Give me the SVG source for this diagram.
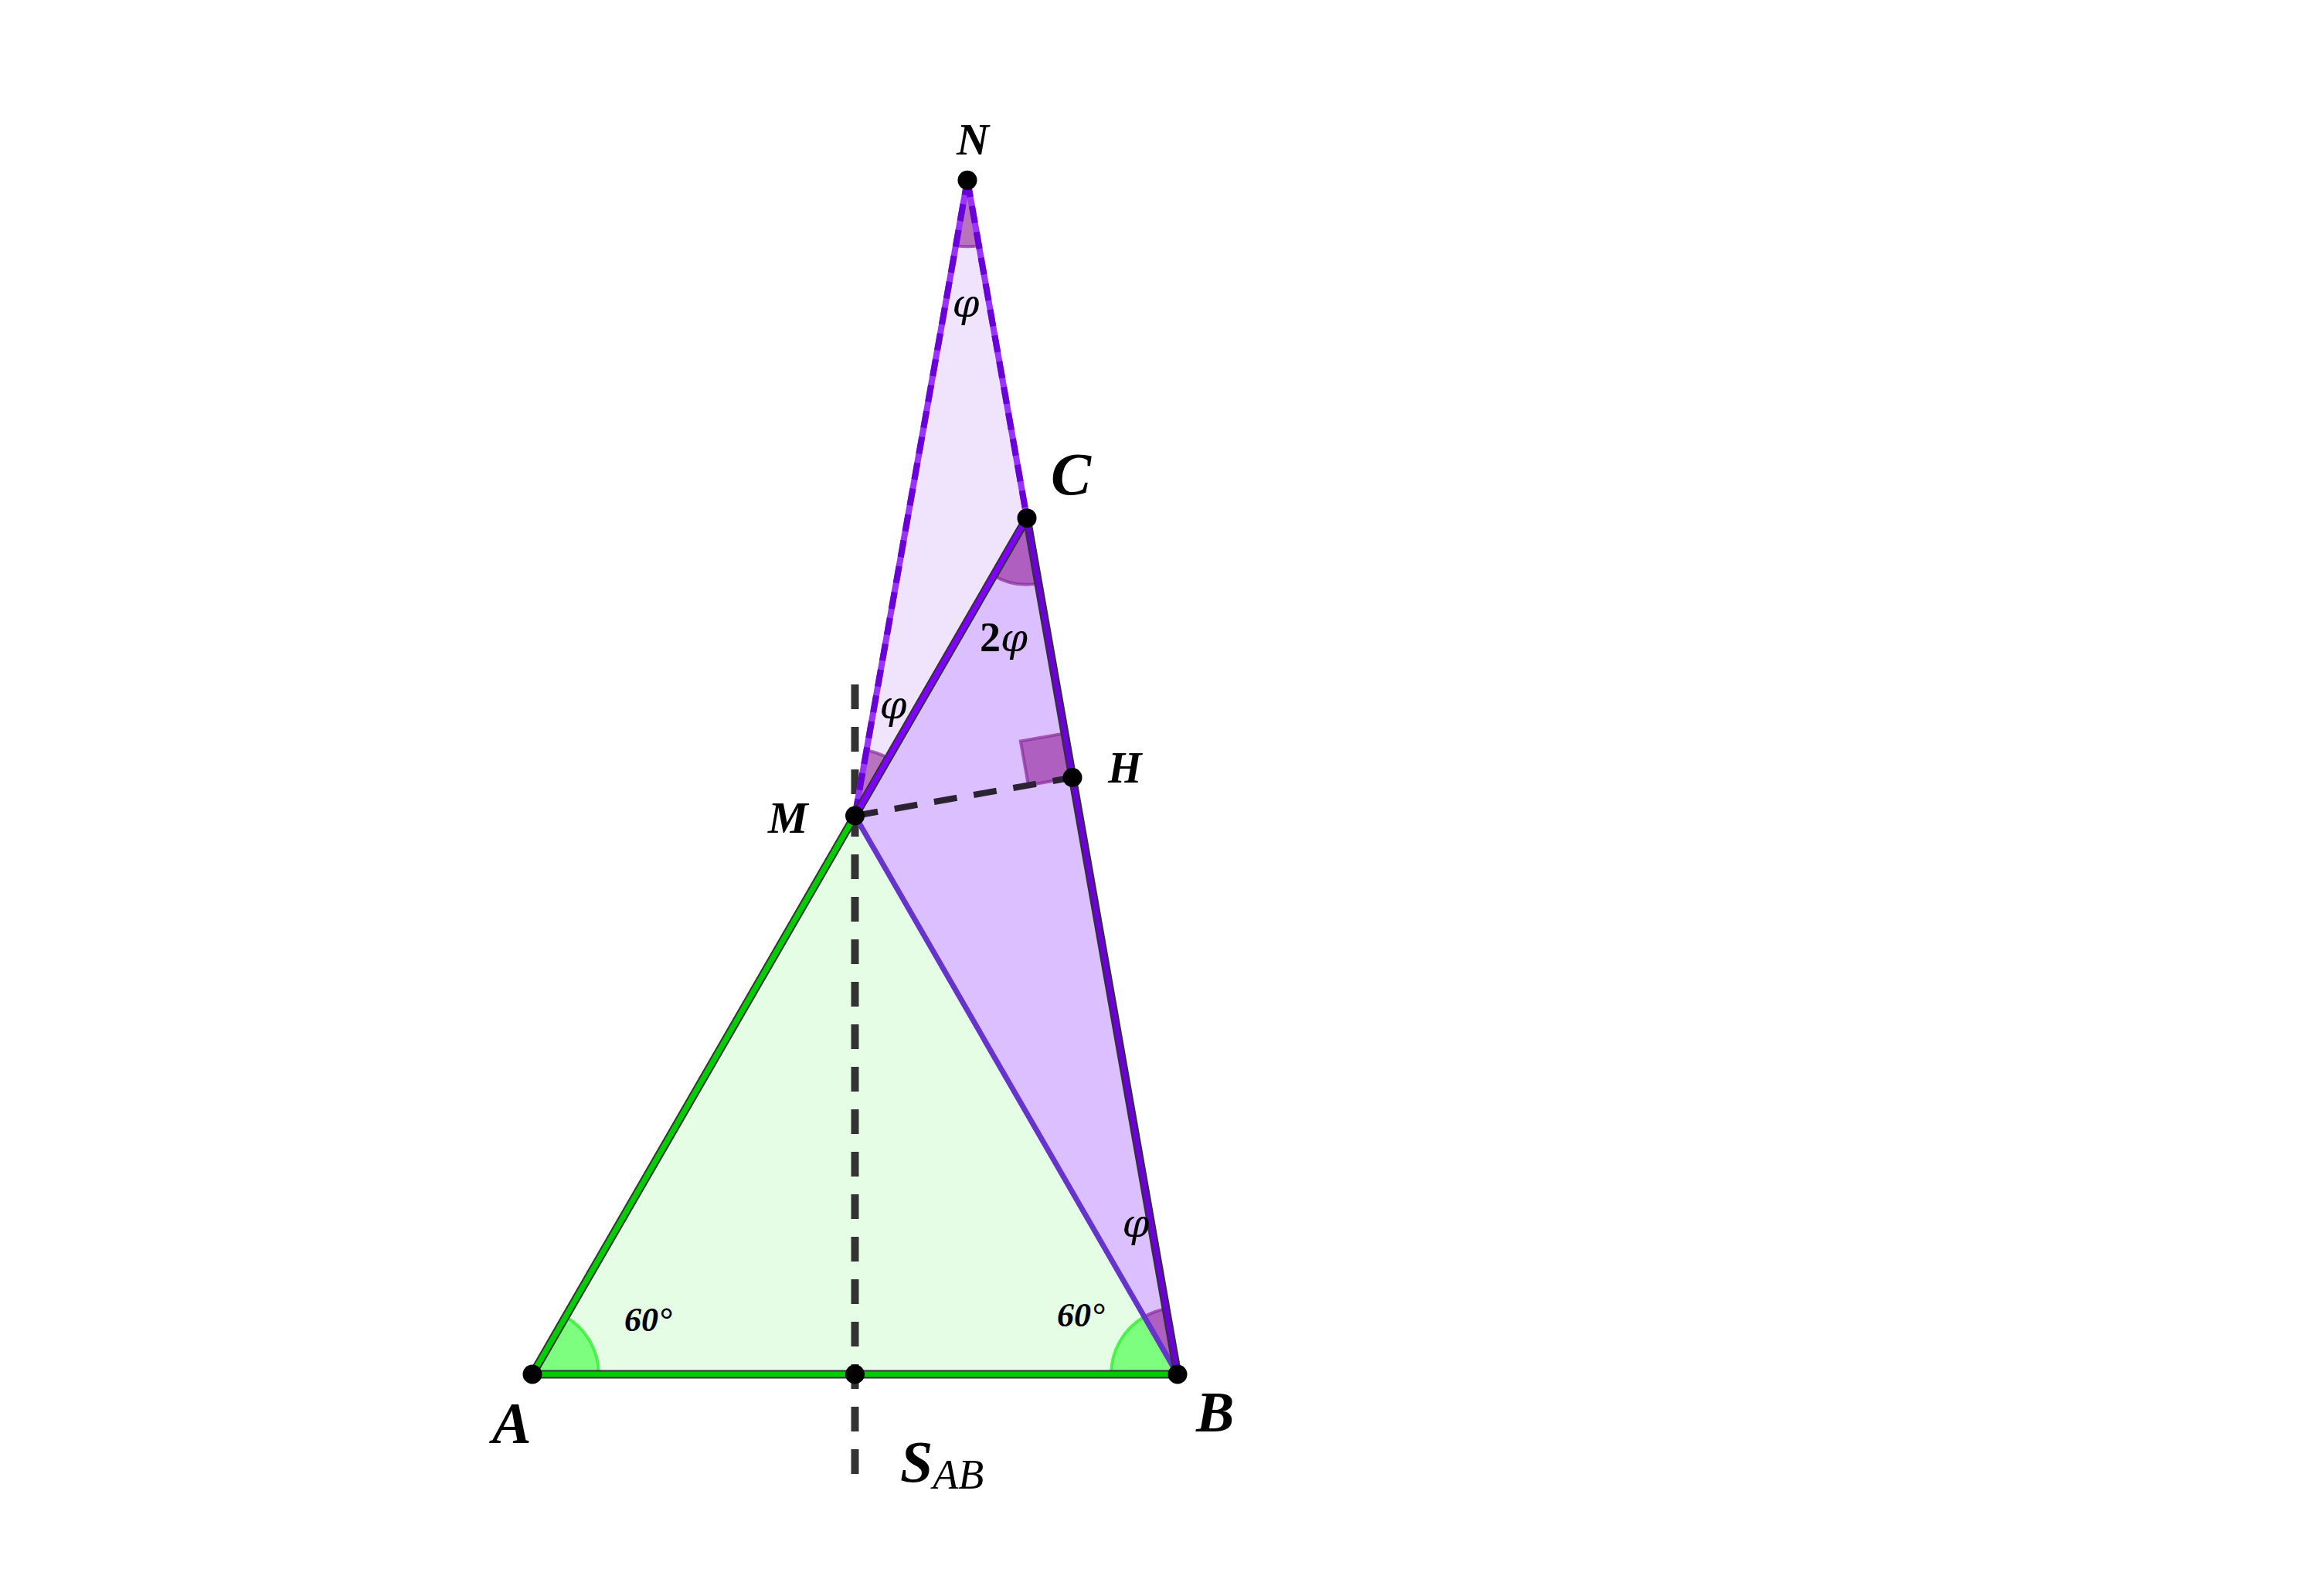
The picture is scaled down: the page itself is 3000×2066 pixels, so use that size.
<svg xmlns="http://www.w3.org/2000/svg" width="3000" height="2066" viewBox="0 0 3000 2066">
<style>
.lbl{font-family:"Liberation Serif","DejaVu Serif",serif;font-style:italic;font-weight:bold;fill:#000}
.phi{font-family:"DejaVu Serif",serif;font-style:italic;font-weight:normal;fill:#000}
.pt{fill:#000}
.gs{fill:#00ff00;fill-opacity:0.45;stroke:#33ee33;stroke-width:4;stroke-opacity:0.8}
.ps{fill:#800080;fill-opacity:0.5;stroke:#8a2c9a;stroke-opacity:0.7;stroke-width:4}
.out{stroke:#333;stroke-width:11;fill:none;stroke-linecap:round}
</style>
<rect width="3000" height="2066" fill="#fff"/>
<g id="fills">
<polygon points="689,1779 1524,1779 1106.5,1056" fill="#e5fde5"/>
<polygon points="1106.5,1056 1524,1779 1329,670.7" fill="#dcbfff"/>
<polygon points="1106.5,1056 1329,670.7 1252,233.3" fill="#f0e4fd"/>
</g>
<g id="angles">
<path class="gs" d="M689,1779 L775,1779 A86,86 0 0 0 732,1704.5 Z"/>
<path class="gs" d="M1524,1779 L1438,1779 A86,86 0 0 1 1481,1704.5 Z"/>
<path class="ps" d="M1524,1779 L1481,1704.5 A86,86 0 0 1 1509.1,1694.3 Z"/>
<path class="ps" d="M1329,670.7 L1286,745.2 A86,86 0 0 0 1343.9,755.4 Z"/>
<path class="ps" d="M1252,233.3 L1237,318 A86,86 0 0 0 1266.9,318 Z"/>
<path class="ps" d="M1106.5,1056 L1121.5,971.3 A86,86 0 0 1 1149.5,981.5 Z"/>
<polygon class="ps" points="1388,1006.5 1330.9,1016.5 1320.8,959.4 1377.9,949.4"/>
</g>
<g id="connectors">
<line x1="1106.5" y1="886" x2="1106.5" y2="1914" stroke="#333" stroke-width="10" stroke-dasharray="32 23"/>
<line x1="1106.5" y1="1056" x2="1388" y2="1006.5" stroke="#2b2333" stroke-width="8" stroke-dasharray="30 22"/>
<line x1="1106.5" y1="1056" x2="1252" y2="233.3" stroke="#9933ff" stroke-width="8"/>
<line x1="1106.5" y1="1056" x2="1252" y2="233.3" stroke="#6a00d8" stroke-width="8" stroke-dasharray="22 12"/>
<line x1="1252" y1="233.3" x2="1329" y2="670.7" stroke="#9933ff" stroke-width="8"/>
<line x1="1252" y1="233.3" x2="1329" y2="670.7" stroke="#6a00d8" stroke-width="8" stroke-dasharray="22 12"/>
<line x1="1106.5" y1="1056" x2="1524" y2="1779" stroke="#6633cc" stroke-width="7"/>
<line class="out" x1="689" y1="1779" x2="1524" y2="1779"/>
<line x1="689" y1="1779" x2="1524" y2="1779" stroke="#00cc00" stroke-width="7"/>
<line class="out" x1="689" y1="1779" x2="1106.5" y2="1056"/>
<line x1="689" y1="1779" x2="1106.5" y2="1056" stroke="#00cc00" stroke-width="7"/>
<line class="out" x1="1106.5" y1="1056" x2="1329" y2="670.7"/>
<line x1="1106.5" y1="1056" x2="1329" y2="670.7" stroke="#7f00ff" stroke-width="7"/>
<line class="out" x1="1329" y1="670.7" x2="1524" y2="1779"/>
<line x1="1329" y1="670.7" x2="1524" y2="1779" stroke="#6a00d5" stroke-width="7"/>
</g>
<g id="angle-labels">
<text class="lbl" x="808" y="1723" font-size="44">60°</text>
<text class="lbl" x="1368" y="1717" font-size="44">60°</text>
<text class="phi" x="1250" y="410" font-size="50" text-anchor="middle">φ</text>
<text x="1268" y="843" font-size="54" font-family="Liberation Serif, serif" font-weight="bold">2<tspan class="phi" font-size="50">φ</tspan></text>
<text class="phi" x="1156" y="930" font-size="50" text-anchor="middle">φ</text>
<text class="phi" x="1470" y="1601" font-size="50" text-anchor="middle">φ</text>
</g>
<g id="node-A"><circle class="pt" cx="689" cy="1779" r="12.5"/><text class="lbl" x="637" y="1868" font-size="76">A</text></g>
<g id="node-B"><circle class="pt" cx="1524" cy="1779" r="12.5"/><text class="lbl" x="1548" y="1853" font-size="74">B</text></g>
<g id="node-S"><circle class="pt" cx="1106.5" cy="1779" r="12.5"/><text class="lbl" x="1165" y="1918" font-size="76">S<tspan font-size="54" font-weight="normal" dy="9">AB</tspan></text></g>
<g id="node-M"><circle class="pt" cx="1106.5" cy="1056" r="12.5"/><text class="lbl" x="994" y="1078" font-size="58">M</text></g>
<g id="node-C"><circle class="pt" cx="1329" cy="670.7" r="12.5"/><text class="lbl" x="1360" y="640" font-size="78">C</text></g>
<g id="node-N"><circle class="pt" cx="1252" cy="233.3" r="12.5"/><text class="lbl" x="1238" y="200" font-size="58">N</text></g>
<g id="node-H"><circle class="pt" cx="1388" cy="1006.5" r="12.5"/><text class="lbl" x="1434" y="1013" font-size="56">H</text></g>
</svg>
